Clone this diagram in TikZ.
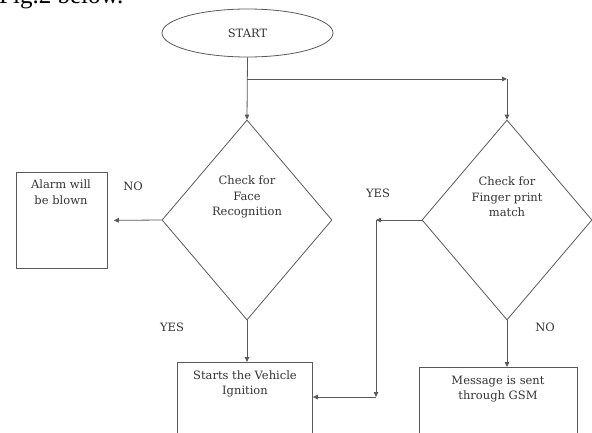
\documentclass[tikz,border=0pt]{standalone}
\usepackage{fontspec}
\setmainfont{DejaVu Serif}
\newfontfamily\pagefont{Liberation Serif}
\usetikzlibrary{shapes.geometric,arrows.meta}
\tikzset{
  ln/.style={draw=black!65, line width=0.8pt},
  arr/.style={ln, -{Triangle[length=5pt,width=4.5pt]}},
  dia/.style={ln, diamond, aspect=0.85, minimum width=170pt, minimum height=200pt, inner sep=0pt},
  boxst/.style={ln, rectangle, inner sep=0pt, anchor=north west},
  txt/.style={font=\fontsize{11.5}{15.5}\selectfont, text=black!80, align=center, inner sep=0pt},
}
\begin{document}
\begin{tikzpicture}[x=1pt,y=-1pt]
\useasboundingbox (0,0) rectangle (592,432);
\node[anchor=base west, font=\pagefont\fontsize{25}{28}\selectfont, inner sep=0pt] (fig) at (-1,3) {Fig.2 below.};
\node[ln, ellipse, minimum width=171pt, minimum height=48pt, inner sep=0pt] (st) at (247.5,33) {};
\node[txt] (sttxt) at (247.5,33) {START};
\node[dia] (ff) at (247,220) {};
\node[txt] (fftxt) at (247,197) {Check for\\Face\\Recognition};
\node[dia] (fp) at (507,220) {};
\node[txt] (fptxt) at (507,197) {Check for\\Finger print\\match};
\node[boxst, minimum width=91pt, minimum height=96pt] (alarm) at (16,172) {};
\node[txt] (alarmtxt) at (61,192) {Alarm will\\be blown};
\node[boxst, minimum width=135pt, minimum height=90pt] (ign) at (177,362) {};
\node[txt] (igntxt) at (245,384) {Starts the Vehicle\\Ignition};
\node[boxst, minimum width=158pt, minimum height=90pt] (msg) at (419,367) {};
\node[txt] (msgtxt) at (498,389) {Message is sent\\through GSM};
\node[txt] (no1) at (133,186) {NO};
\node[txt] (yes1) at (172,327) {YES};
\node[txt] (yes2) at (378,193) {YES};
\node[txt] (no2) at (545,327) {NO};
\coordinate (j1) at (247,79);
\coordinate (j2) at (507,79);
\coordinate (j3) at (376,220);
\coordinate (j4) at (376,397);
\draw[arr] (st.south) -- (ff.north);
\draw[arr] (j1) -- (j2);
\draw[arr] (j2) -- (fp.north);
\draw[arr, shorten >=6pt] (ff.west) -- (alarm.east);
\draw[arr] (ff.south) -- (ign.north -| ff.south);
\draw[arr] (fp.west) -- (j3);
\draw[arr] (j3) -- (j4);
\draw[arr] (j4) -- (ign.east |- j4);
\draw[arr] (fp.south) -- (msg.north -| fp.south);
\end{tikzpicture}
\end{document}
